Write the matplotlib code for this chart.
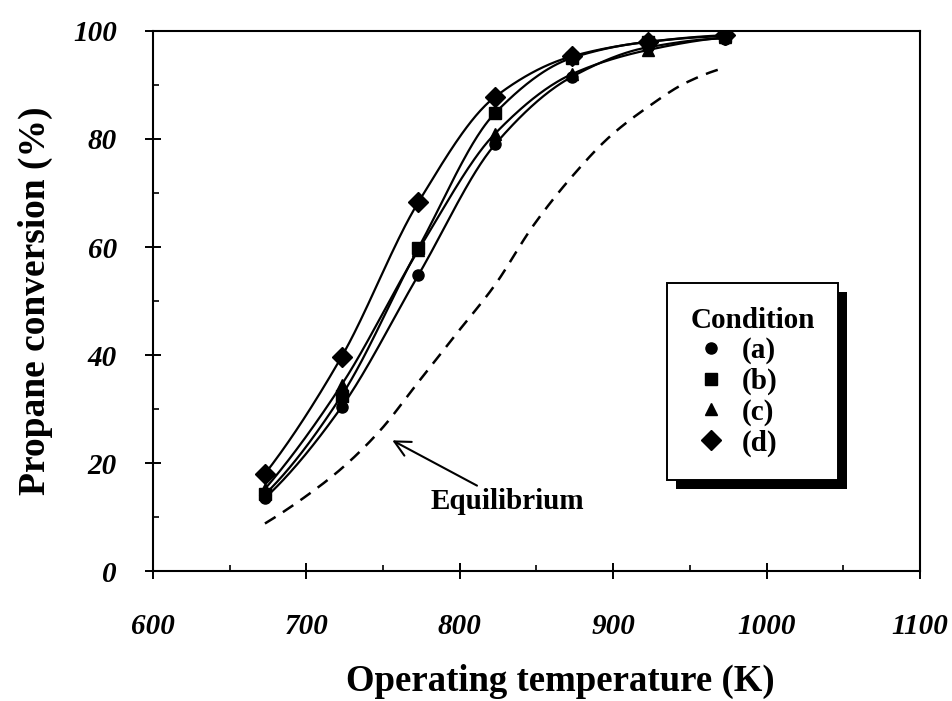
import numpy as np
import matplotlib
matplotlib.use("Agg")
import matplotlib.pyplot as plt
from matplotlib.lines import Line2D
from matplotlib.patches import Rectangle
from matplotlib.ticker import MultipleLocator

# propane conversion at each operating temperature
temps = [673, 723, 773, 823, 873, 923, 973]
conv_a = [13.5, 30.4, 54.8, 79.0, 91.5, 97.0, 98.6]
conv_b = [14.2, 32.5, 59.8, 84.8, 95.0, 98.0, 99.0]
conv_c = [15.2, 34.5, 59.4, 81.0, 92.0, 96.5, 98.8]
conv_d = [18.0, 39.7, 68.3, 87.8, 95.3, 98.0, 99.2]

# equilibrium conversion
eq_temps = [673, 698, 723, 748, 773, 798, 823, 848, 873, 898, 923, 948, 973]
eq_conv = [8.8, 13.5, 19.0, 26.0, 35.0, 44.0, 53.0, 64.0, 73.0, 80.5, 86.0, 90.5, 93.2]

labels = ["(a)", "(b)", "(c)", "(d)"]
markers = ["o", "s", "^", "D"]
msizes = [8, 8, 9, 10]

SERIF = "Liberation Serif"


def pchip(x, y, xs):
    # monotone cubic through the points, for smooth curves
    x = np.asarray(x, float)
    y = np.asarray(y, float)
    h = np.diff(x)
    d = np.diff(y) / h
    n = len(x)
    m = np.zeros(n)
    for k in range(1, n - 1):
        if d[k - 1] * d[k] > 0:
            w1 = 2 * h[k] + h[k - 1]
            w2 = h[k] + 2 * h[k - 1]
            m[k] = (w1 + w2) / (w1 / d[k - 1] + w2 / d[k])
    m[0] = ((2 * h[0] + h[1]) * d[0] - h[0] * d[1]) / (h[0] + h[1])
    if np.sign(m[0]) != np.sign(d[0]):
        m[0] = 0
    m[-1] = ((2 * h[-1] + h[-2]) * d[-1] - h[-1] * d[-2]) / (h[-1] + h[-2])
    if np.sign(m[-1]) != np.sign(d[-1]):
        m[-1] = 0
    idx = np.clip(np.searchsorted(x, xs) - 1, 0, n - 2)
    t = (xs - x[idx]) / h[idx]
    h00 = 2 * t**3 - 3 * t**2 + 1
    h10 = t**3 - 2 * t**2 + t
    h01 = -2 * t**3 + 3 * t**2
    h11 = t**3 - t**2
    return (h00 * y[idx] + h10 * h[idx] * m[idx]
            + h01 * y[idx + 1] + h11 * h[idx] * m[idx + 1])


fig = plt.figure(figsize=(9.53, 7.01), dpi=100)
ax = fig.add_axes([0.1605, 0.1854, 0.8049, 0.7704])

xs = np.linspace(temps[0], temps[-1], 300)
for conv, mk, ms in zip([conv_a, conv_b, conv_c, conv_d], markers, msizes):
    ax.plot(xs, pchip(temps, conv, xs), color="black", lw=1.6, zorder=2)
    ax.plot(temps, conv, ls="none", marker=mk, ms=ms, color="black", zorder=3)

xe = np.linspace(eq_temps[0], eq_temps[-1], 300)
ax.plot(xe, pchip(eq_temps, eq_conv, xe), color="black", lw=1.8,
        dashes=(5, 3.5), zorder=2)

ax.annotate("Equilibrium", xy=(756, 24.2), xytext=(781, 12.8),
            fontsize=21, fontweight="bold", family=SERIF, va="center",
            arrowprops=dict(arrowstyle="->", color="black", lw=1.5,
                            mutation_scale=28, shrinkA=0, shrinkB=0))

ax.set_xlim(600, 1100)
ax.set_ylim(0, 100)
ax.xaxis.set_major_locator(MultipleLocator(100))
ax.xaxis.set_minor_locator(MultipleLocator(50))
ax.yaxis.set_major_locator(MultipleLocator(20))
ax.yaxis.set_minor_locator(MultipleLocator(10))
ax.tick_params(which="major", direction="inout", length=12, width=1.4)
ax.tick_params(which="minor", direction="in", length=4, width=1.2)
ax.tick_params(axis="x", which="major", pad=24)
ax.tick_params(axis="y", which="major", pad=20)
for sp in ax.spines.values():
    sp.set_linewidth(1.5)

for lab in ax.get_xticklabels() + ax.get_yticklabels():
    lab.set_family(SERIF)
    lab.set_fontweight("bold")
    lab.set_fontstyle("italic")
    lab.set_fontsize(21)

ax.set_xlabel("Operating temperature (K)", family=SERIF, fontweight="bold",
              fontsize=26.5)
ax.xaxis.set_label_coords(0.531, -0.172)
ax.set_ylabel("Propane conversion (%)", family=SERIF, fontweight="bold",
              fontsize=27)
ax.yaxis.set_label_coords(-0.13, 0.5)

handles = [Line2D([], [], ls="none", marker=mk, ms=ms, color="black")
           for mk, ms in zip(markers, msizes)]
leg = ax.legend(handles, labels, title="Condition", loc="upper left",
                bbox_to_anchor=(0.670, 0.533), frameon=True, fancybox=False,
                framealpha=1, facecolor="white", edgecolor="black",
                prop=dict(family=SERIF, weight="bold", size=21),
                title_fontproperties=dict(family=SERIF, weight="bold", size=21),
                alignment="left", handlelength=1.4, handletextpad=0.35,
                labelspacing=0.12, borderpad=0.8, borderaxespad=0)
leg.get_frame().set_linewidth(1.4)
leg.set_zorder(6)

# solid drop shadow behind the legend box
fig.canvas.draw()
bb = leg.get_window_extent()
shadow = Rectangle((bb.x0 + 9, bb.y0 - 9), bb.width, bb.height,
                   transform=None, facecolor="black", edgecolor="none",
                   zorder=5)
ax.add_artist(shadow)

fig.savefig("out.png", dpi=100)
